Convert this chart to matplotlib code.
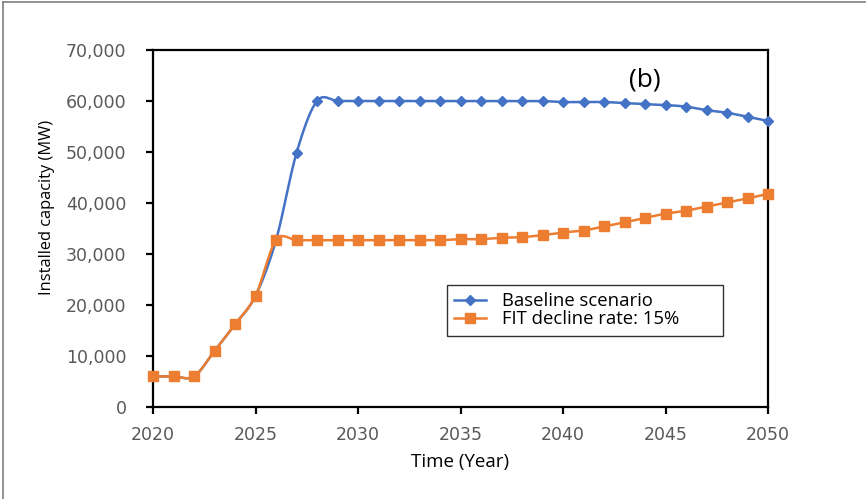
import matplotlib
matplotlib.use("Agg")
import matplotlib.pyplot as plt
from matplotlib.lines import Line2D
from matplotlib.ticker import FuncFormatter
import numpy as np

plt.rcParams['font.family'] = ['Open Sans', 'DejaVu Sans']

years = list(range(2020, 2051))
baseline = [6000, 6000, 6000, 11000, 16200, 21800, 32700, 49800, 60000, 60000,
            60000, 60000, 60000, 60000, 60000, 60000, 60000, 60000, 60000, 60000,
            59800, 59800, 59800, 59600, 59400, 59200, 58900, 58200, 57700, 56900,
            56100]
fit15 = [6000, 6000, 6000, 11000, 16200, 21800, 32700, 32700, 32700, 32700,
         32700, 32700, 32700, 32700, 32700, 32900, 32900, 33200, 33300, 33700,
         34200, 34600, 35400, 36200, 37100, 37900, 38500, 39300, 40100, 40900,
         41800]
labels = ["Baseline scenario", "FIT decline rate: 15%"]

blue = "#4472C4"
orange = "#ED7D31"


def smooth(x, y, n=30):
    # Excel-style smoothed line: cubic Bezier segments with Catmull-Rom tangents
    x = np.asarray(x, float)
    y = np.asarray(y, float)
    px = np.concatenate([[x[0]], x, [x[-1]]])
    py = np.concatenate([[y[0]], y, [y[-1]]])
    t = np.linspace(0, 1, n)[:, None]
    xs, ys = [], []
    for i in range(1, len(px) - 2):
        p0 = np.array([px[i], py[i]])
        p3 = np.array([px[i + 1], py[i + 1]])
        p1 = p0 + (np.array([px[i + 1], py[i + 1]]) - np.array([px[i - 1], py[i - 1]])) / 6
        p2 = p3 - (np.array([px[i + 2], py[i + 2]]) - np.array([px[i], py[i]])) / 6
        b = ((1 - t) ** 3) * p0 + 3 * ((1 - t) ** 2) * t * p1 + 3 * (1 - t) * t ** 2 * p2 + t ** 3 * p3
        xs.append(b[:, 0])
        ys.append(b[:, 1])
    return np.concatenate(xs), np.concatenate(ys)


fig = plt.figure(figsize=(8.66, 4.99), dpi=100)
ax = fig.add_axes([153 / 866, 1 - 407 / 499, 615 / 866, 357 / 499])

sx, sy = smooth(years, baseline)
ax.plot(sx, sy, color=blue, lw=1.8, zorder=3, clip_on=False)
ax.plot(years, baseline, ls="none", marker="D", ms=5.5, color=blue, zorder=4, clip_on=False)
sx, sy = smooth(years, fit15)
ax.plot(sx, sy, color=orange, lw=1.8, zorder=5, clip_on=False)
ax.plot(years, fit15, ls="none", marker="s", ms=7, color=orange, zorder=6, clip_on=False)

ax.set_xlim(2020, 2050)
ax.set_ylim(0, 70000)
ax.set_xticks(range(2020, 2051, 5))
ax.set_yticks(range(0, 70001, 10000))
ax.yaxis.set_major_formatter(FuncFormatter(lambda v, p: f"{int(v):,}"))
for s in ax.spines.values():
    s.set_linewidth(1.6)
    s.set_color("black")
ax.tick_params(direction="out", length=5, width=1.6, colors="black",
               labelcolor="#595959")
for lab in ax.get_xticklabels() + ax.get_yticklabels():
    lab.set_fontfamily("DejaVu Sans")
    lab.set_fontsize(12.5)
ax.tick_params(axis="x", pad=9)
ax.tick_params(axis="y", pad=14)
ax.set_xlabel("Time (Year)", fontsize=13.5, labelpad=6)
ax.set_ylabel("Installed capacity (MW)", fontsize=11.8)
ax.yaxis.set_label_coords(-0.16, 0.56)

ax.text(645 / 866, 1 - 80 / 499, "(b)", transform=fig.transFigure,
        ha="center", va="center", fontsize=19)

handles = [Line2D([], [], color=blue, lw=1.8, marker="D", ms=5.5),
           Line2D([], [], color=orange, lw=1.8, marker="s", ms=7)]
leg = fig.legend(handles, labels, loc="upper left", mode="expand",
                 bbox_to_anchor=(447 / 866, 1 - 335 / 499, 276 / 866, 50 / 499),
                 borderaxespad=0, fontsize=13.3, frameon=True, fancybox=False,
                 borderpad=0.4, handlelength=1.7, handletextpad=0.9,
                 labelspacing=0.0)
leg.get_frame().set_edgecolor("black")
leg.get_frame().set_linewidth(1.0)

# chart-area border (top and left edges visible in the source)
fig.add_artist(Line2D([3 / 866, 865 / 866], [1 - 2 / 499, 1 - 2 / 499],
                      transform=fig.transFigure, color="#7f7f7f", lw=1.2))
fig.add_artist(Line2D([3 / 866, 3 / 866], [0, 1 - 2 / 499],
                      transform=fig.transFigure, color="#7f7f7f", lw=1.2))

fig.savefig("out.png", dpi=100)
